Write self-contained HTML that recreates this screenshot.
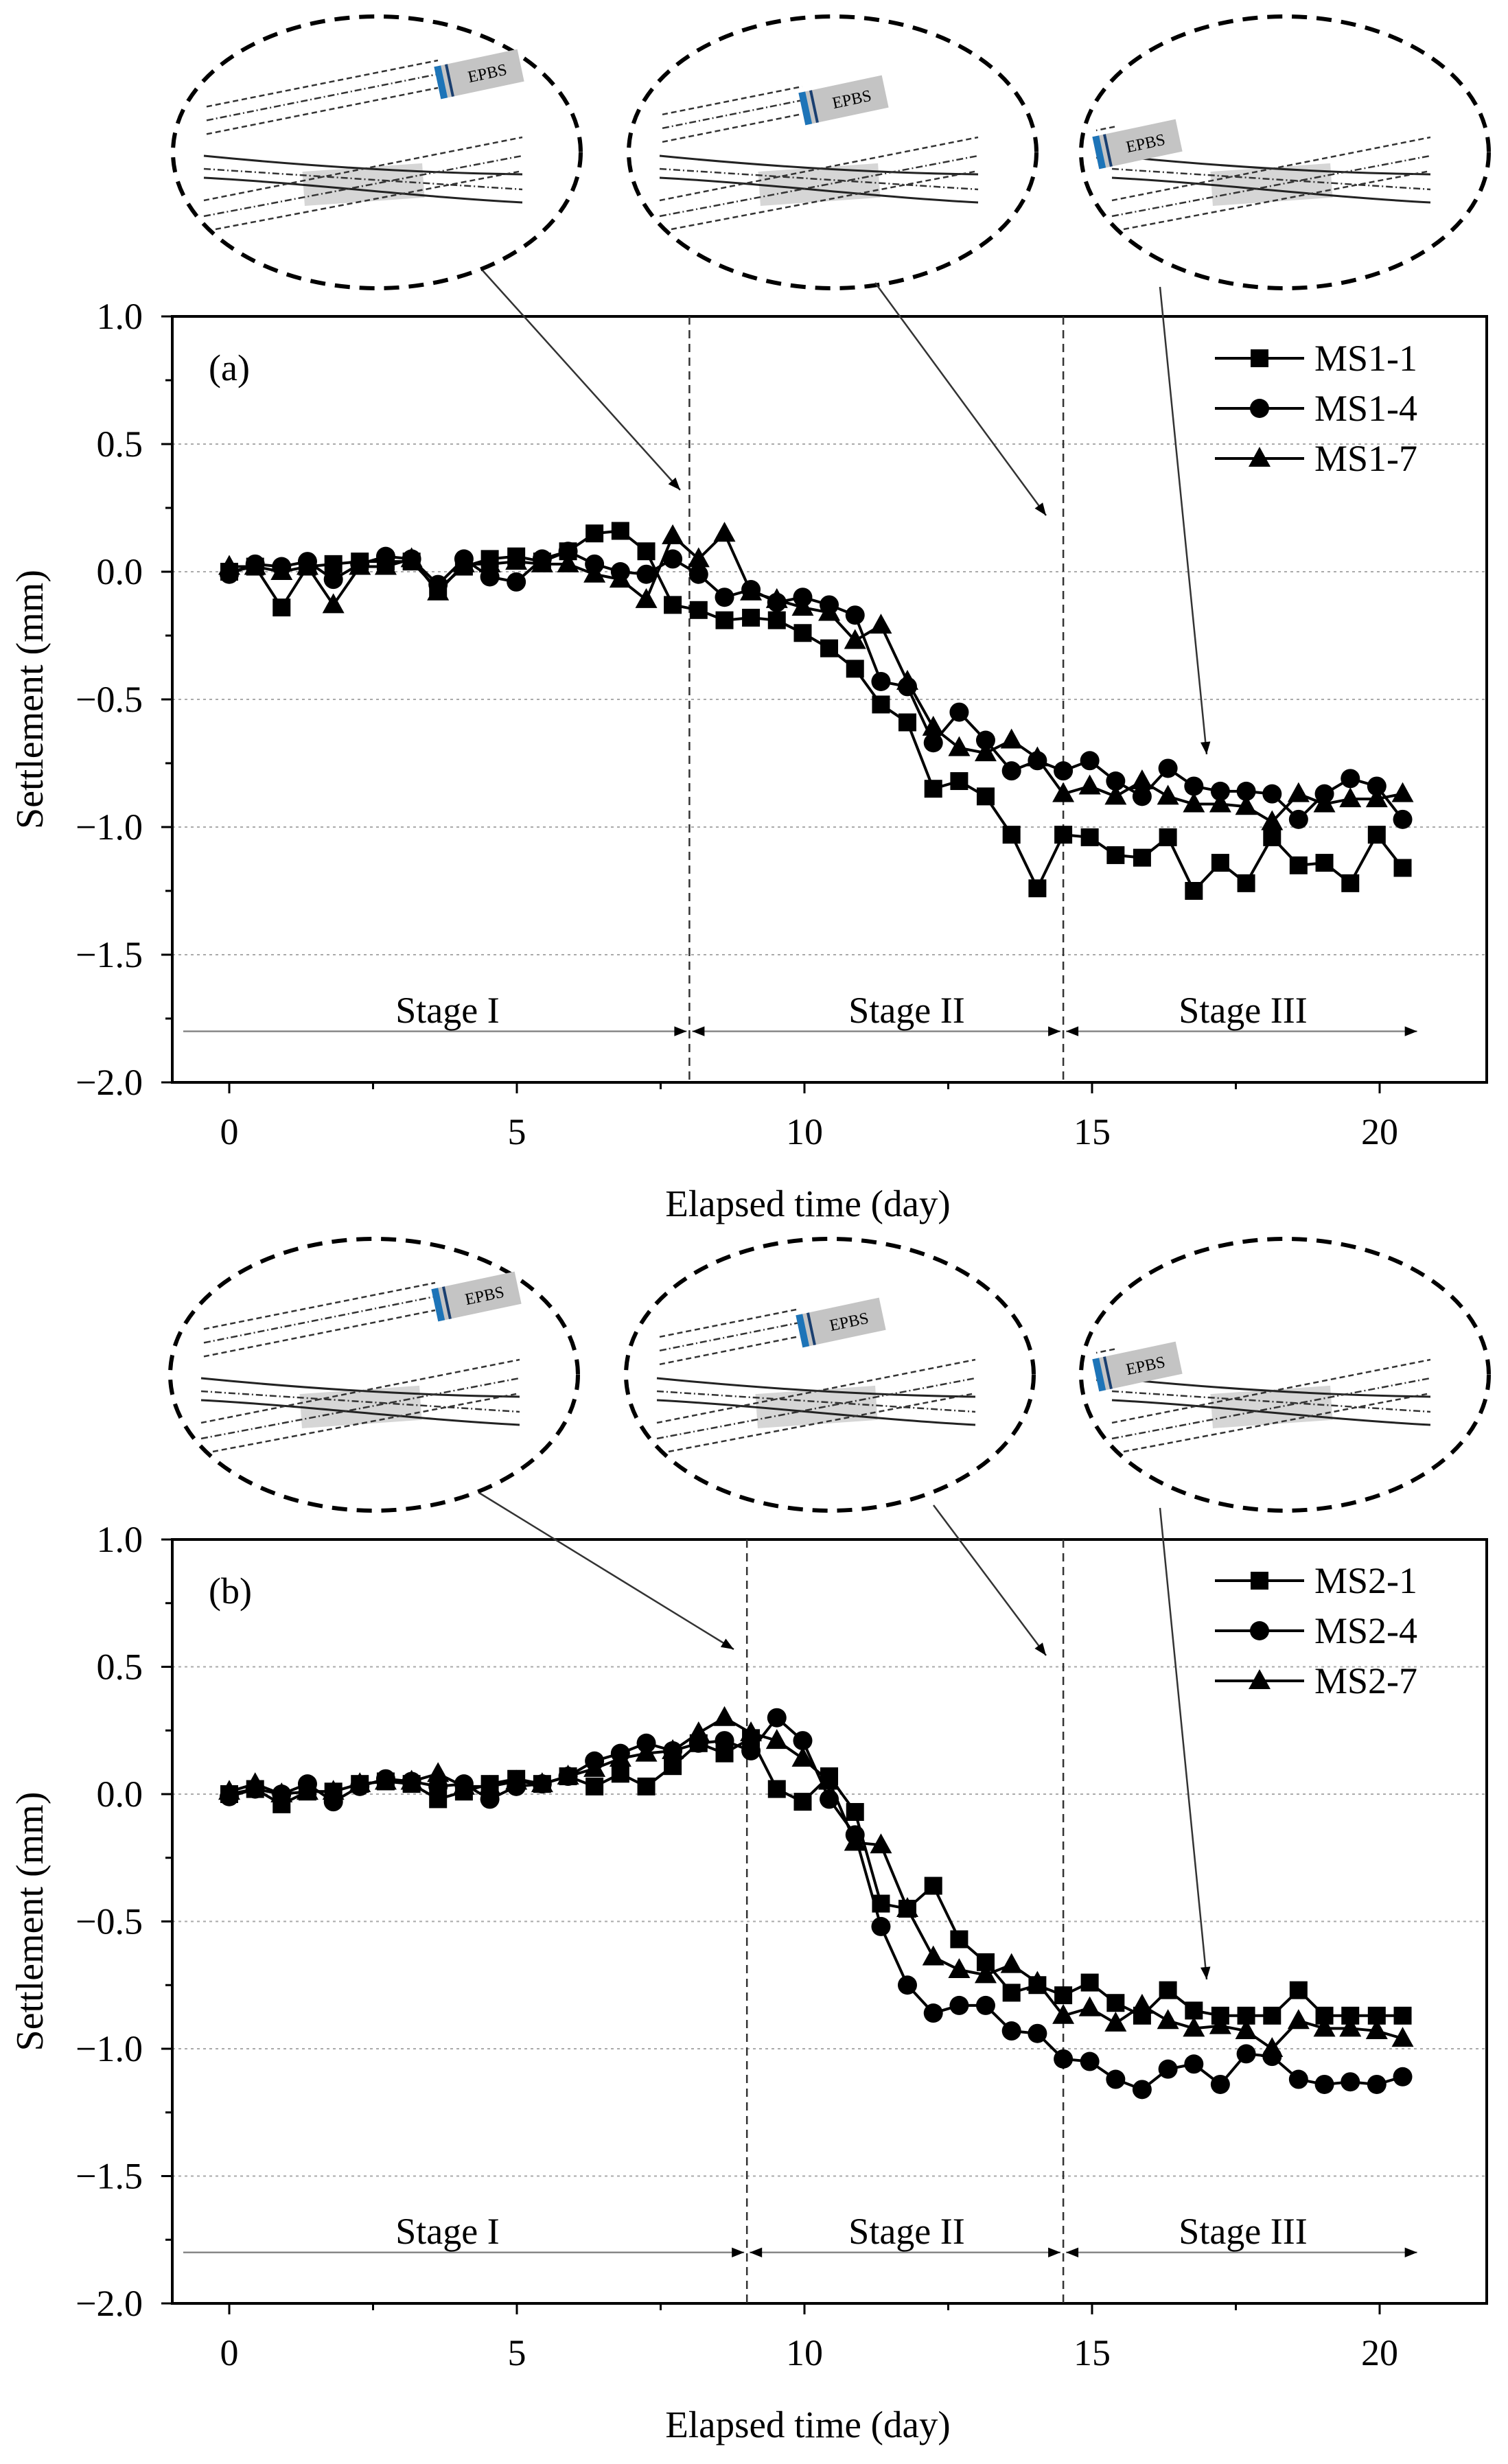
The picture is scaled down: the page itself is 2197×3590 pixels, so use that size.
<!DOCTYPE html>
<html><head><meta charset="utf-8"><style>
html,body{margin:0;padding:0;background:#fff}
svg{display:block}
text{font-family:"Liberation Serif",serif;fill:#000}
</style></head><body>
<svg id="fig" width="2197" height="3590" viewBox="0 0 2197 3590" xmlns="http://www.w3.org/2000/svg"></svg>
<script>
const days=[0,0.45,0.91,1.36,1.81,2.27,2.72,3.17,3.63,4.08,4.53,4.99,5.44,5.89,6.35,6.8,7.25,7.71,8.16,8.61,9.07,9.52,9.97,10.43,10.88,11.33,11.79,12.24,12.69,13.15,13.6,14.05,14.5,14.96,15.41,15.87,16.32,16.77,17.23,17.68,18.13,18.59,19.04,19.49,19.95,20.4];
const ms1_1=[0,0.02,-0.14,0.02,0.03,0.04,0.04,0.04,-0.07,0.02,0.05,0.06,0.04,0.08,0.15,0.16,0.08,-0.13,-0.15,-0.19,-0.18,-0.19,-0.24,-0.30,-0.38,-0.52,-0.59,-0.85,-0.82,-0.88,-1.03,-1.24,-1.03,-1.04,-1.11,-1.12,-1.04,-1.25,-1.14,-1.22,-1.04,-1.15,-1.14,-1.22,-1.03,-1.16];
const ms1_4=[-0.01,0.03,0.02,0.04,-0.03,0.03,0.06,0.05,-0.05,0.05,-0.02,-0.04,0.05,0.08,0.03,0.00,-0.01,0.05,-0.01,-0.10,-0.07,-0.12,-0.10,-0.13,-0.17,-0.43,-0.45,-0.67,-0.55,-0.66,-0.78,-0.74,-0.78,-0.74,-0.82,-0.88,-0.77,-0.84,-0.86,-0.86,-0.87,-0.97,-0.87,-0.81,-0.84,-0.97];
const ms1_7=[0.02,0.02,0,0.02,-0.13,0.02,0.02,0.05,-0.08,0.03,0.03,0.04,0.03,0.03,-0.01,-0.03,-0.11,0.14,0.05,0.15,-0.08,-0.11,-0.14,-0.16,-0.27,-0.21,-0.43,-0.61,-0.69,-0.71,-0.66,-0.73,-0.87,-0.84,-0.88,-0.82,-0.88,-0.91,-0.91,-0.92,-0.98,-0.87,-0.91,-0.89,-0.89,-0.87];
const ms2_1=[0,0.02,-0.04,0.01,0.01,0.04,0.05,0.04,-0.02,0.01,0.04,0.06,0.04,0.07,0.03,0.08,0.03,0.11,0.20,0.16,0.22,0.02,-0.03,0.07,-0.07,-0.43,-0.45,-0.36,-0.57,-0.66,-0.78,-0.75,-0.79,-0.74,-0.82,-0.87,-0.77,-0.85,-0.87,-0.87,-0.87,-0.77,-0.87,-0.87,-0.87,-0.87];
const ms2_4=[-0.01,0.02,0.00,0.04,-0.03,0.03,0.06,0.05,0.03,0.04,-0.02,0.03,0.04,0.07,0.13,0.16,0.20,0.17,0.20,0.21,0.17,0.30,0.21,-0.02,-0.16,-0.52,-0.75,-0.86,-0.83,-0.83,-0.93,-0.94,-1.04,-1.05,-1.12,-1.16,-1.08,-1.06,-1.14,-1.02,-1.03,-1.12,-1.14,-1.13,-1.14,-1.11];
const ms2_7=[0.01,0.04,0.00,0.01,0.01,0.04,0.05,0.05,0.08,0.03,0.03,0.05,0.04,0.07,0.10,0.14,0.16,0.17,0.24,0.30,0.24,0.21,0.14,0.05,-0.19,-0.20,-0.45,-0.64,-0.69,-0.71,-0.67,-0.74,-0.87,-0.84,-0.90,-0.83,-0.89,-0.92,-0.91,-0.93,-1.00,-0.89,-0.92,-0.92,-0.93,-0.96];
const xTicks=[0,5,10,15,20];
const yTicks=[1.0,0.5,0.0,-0.5,-1.0,-1.5,-2.0];
const yTickLabels=["1.0","0.5","0.0","\u22120.5","\u22121.0","\u22121.5","\u22122.0"];
const namesA=["MS1-1","MS1-4","MS1-7"];
const namesB=["MS2-1","MS2-4","MS2-7"];
const stageBoundsA=[8,14.5];
const stageBoundsB=[9,14.5];

const NS="http://www.w3.org/2000/svg";
const svg=document.getElementById('fig');
function mk(tag,attrs,parent){const e=document.createElementNS(NS,tag);for(const k in attrs)e.setAttribute(k,attrs[k]);(parent||svg).appendChild(e);return e;}
const defs=mk('defs',{});
const mkr=mk('marker',{id:'ah',viewBox:'0 0 10 10',refX:'10',refY:'5',markerWidth:'24',markerHeight:'18',orient:'auto-start-reverse',markerUnits:'userSpaceOnUse'},defs);
mk('path',{d:'M0,1 L10,5 L0,9 z',fill:'#000'},mkr);

function marker(g,type,x,y){
  let e;
  if(type===0){e=mk('rect',{x:x-13,y:y-13,width:26,height:26,fill:'#000'},g);}
  else if(type===1){e=mk('circle',{cx:x,cy:y,r:14,fill:'#000'},g);}
  else {e=mk('polygon',{points:`${x},${y-17} ${x-16},${y+12} ${x+16},${y+12}`,fill:'#000'},g);}
  return e;
}

function ellipseInset(cx,cy,boxDx,boxDy,name){
  const g=mk('g',{transform:`translate(${cx},${cy})`});
  
  
  mk('ellipse',{cx:0,cy:0,rx:297,ry:198,fill:'none',stroke:'#000','stroke-width':6,'stroke-dasharray':'22 14'},g);
  mk('rect',{x:-107,y:22,width:175,height:50,fill:'#d6d6d6',transform:'rotate(-4 -20 47)'},g);
  // upper tunnel lines ending at the machine
  const offs=[-20,0,20], dashes=['8 5','10 4 2 4','8 5'];
  const ex=boxDx-60;
  offs.forEach((o,i)=>{
    const ey=boxDy+o;
    const sxp=-248, syp=ey+(ex-sxp)*0.2;
    mk('line',{x1:sxp,y1:syp,x2:ex,y2:ey,stroke:'#333','stroke-width':2.5,'stroke-dasharray':dashes[i]},g);
  });
  mk('path',{d:'M-252,5 C-100,20 60,30 212,32',fill:'none',stroke:'#222','stroke-width':3},g);
  mk('path',{d:'M-252,37 C-100,45 60,65 212,73',fill:'none',stroke:'#222','stroke-width':3},g);
  mk('line',{x1:-252,y1:70,x2:212,y2:-22,stroke:'#333','stroke-width':2.5,'stroke-dasharray':'8 5'},g);
  mk('line',{x1:-252,y1:93,x2:212,y2:5,stroke:'#333','stroke-width':2.5,'stroke-dasharray':'10 4 2 4'},g);
  mk('line',{x1:-235,y1:112,x2:212,y2:27,stroke:'#333','stroke-width':2.5,'stroke-dasharray':'8 5'},g);
  mk('line',{x1:-252,y1:24,x2:212,y2:54,stroke:'#333','stroke-width':2.5,'stroke-dasharray':'10 4 2 4'},g);
  const b=mk('g',{transform:`translate(${boxDx},${boxDy}) rotate(-12)`},g);
  mk('rect',{x:-62,y:-24,width:124,height:48,fill:'#c4c4c4'},b);
  mk('rect',{x:-62,y:-24,width:10,height:48,fill:'#1d74b8'},b);
  mk('rect',{x:-46,y:-24,width:4,height:48,fill:'#1a3f70'},b);
  const t=mk('text',{x:12,y:9,'font-size':24,'text-anchor':'middle'},b);t.textContent='EPBS';
  
}

function drawChart(o){
  const L=251,R=2166,X0=334,PX=83.8;
  const T=o.top,B=o.bottom,PY=(B-T)/3;
  const sx=d=>X0+d*PX, sy=v=>T+(1-v)*PY;
  const g=mk('g',{});
  
  
  [0.5,0,-0.5,-1.0,-1.5].forEach(v=>{const l=mk('line',{x1:L,x2:R,y1:sy(v),y2:sy(v),stroke:'#aaa','stroke-width':2,'stroke-dasharray':'4 5'},g);});
  const fr=mk('rect',{x:L,y:T,width:R-L,height:B-T,fill:'none',stroke:'#000','stroke-width':4},g);
  
  for(let d=-2.5;d<=22.5;d+=2.5){const x=sx(d);if(x<L||x>R)continue;mk('line',{x1:x,x2:x,y1:B,y2:B+(d%5===0?16:10),stroke:'#000','stroke-width':3},g);}
  xTicks.forEach(d=>{const t=mk('text',{x:sx(d),y:B+90,'font-size':54,'text-anchor':'middle'},g);t.textContent=String(d);});
  for(let v=-2;v<=1.001;v+=0.25){mk('line',{x1:L,x2:L-(Math.abs(v*2-Math.round(v*2))<0.01?16:10),y1:sy(v),y2:sy(v),stroke:'#000','stroke-width':3},g);}
  yTicks.forEach((v,i)=>{const t=mk('text',{x:208,y:sy(v)+18,'font-size':54,'text-anchor':'end'},g);t.textContent=yTickLabels[i];});
  const yt=mk('text',{x:0,y:0,'font-size':56,'text-anchor':'middle',transform:`translate(62,${(T+B)/2}) rotate(-90)`},g);yt.textContent='Settlement (mm)';
  
  const xt=mk('text',{x:1177,y:B+195,'font-size':55,'text-anchor':'middle'},g);xt.textContent='Elapsed time (day)';
  
  const pl=mk('text',{x:304,y:T+93,'font-size':54},g);pl.textContent=o.label;
  
  o.bounds.forEach(b=>{const l=mk('line',{x1:sx(b),x2:sx(b),y1:T,y2:B,stroke:'#333','stroke-width':2.5,'stroke-dasharray':'12 8'},g);});
  const ay=sy(-1.8);
  const segs=[[-0.8,o.bounds[0]],[o.bounds[0],o.bounds[1]],[o.bounds[1],20.7]];
  const sn=['Stage I','Stage II','Stage III'];
  segs.forEach((s,i)=>{
    const l=mk('line',{x1:sx(s[0])+(i?4:0),x2:sx(s[1])-4,y1:ay,y2:ay,stroke:'#888','stroke-width':2.5,'marker-end':'url(#ah)'},g);
    if(i) l.setAttribute('marker-start','url(#ah)');
    
    const cxm=[652,1321,1811][i];
    const t=mk('text',{x:cxm,y:sy(-1.72)+17,'font-size':54,'text-anchor':'middle'},g);t.textContent=sn[i];
    
  });
  o.series.forEach((vals,si)=>{
    const sg=mk('g',{},g);
    
    
    const pts=vals.map((v,i)=>sx(days[i])+','+sy(v)).join(' ');
    mk('polyline',{points:pts,fill:'none',stroke:'#000','stroke-width':4},sg);
    vals.forEach((v,i)=>{const m=marker(sg,si,sx(days[i]),sy(v));});
  });
  o.names.forEach((n,i)=>{
    const ly=o.legY+i*73;
    const lg=mk('g',{},g);
    
    
    mk('line',{x1:1770,x2:1900,y1:ly,y2:ly,stroke:'#000','stroke-width':4},lg);
    marker(lg,i,1835,ly);
    const t=mk('text',{x:1915,y:ly+18,'font-size':54},lg);t.textContent=n;
  });
  o.arrows.forEach(a=>{const l=mk('line',{x1:a[0],y1:a[1],x2:a[2],y2:a[3],stroke:'#333','stroke-width':2.5,'marker-end':'url(#ah)'},g);});
}

ellipseInset(549,222,149,-114,'inset-stage-1-a');
ellipseInset(1213,222,16,-76,'inset-stage-2-a');
ellipseInset(1872,222,-215,-12,'inset-stage-3-a');
ellipseInset(545,2003,149,-114,'inset-stage-1-b');
ellipseInset(1209,2003,16,-76,'inset-stage-2-b');
ellipseInset(1872,2003,-215,-12,'inset-stage-3-b');

drawChart({name:'chart-a',top:461,bottom:1577,label:'(a)',bounds:stageBoundsA,series:[ms1_1,ms1_4,ms1_7],names:namesA,legY:522,
  arrows:[[703,394,991,714],[1275,412,1524,751],[1690,418,1758,1099]]});
drawChart({name:'chart-b',top:2243,bottom:3356,label:'(b)',bounds:stageBoundsB,series:[ms2_1,ms2_4,ms2_7],names:namesB,legY:2303,
  arrows:[[698,2175,1069,2403],[1360,2193,1524,2412],[1690,2197,1758,2884]]});
</script>
</body></html>
